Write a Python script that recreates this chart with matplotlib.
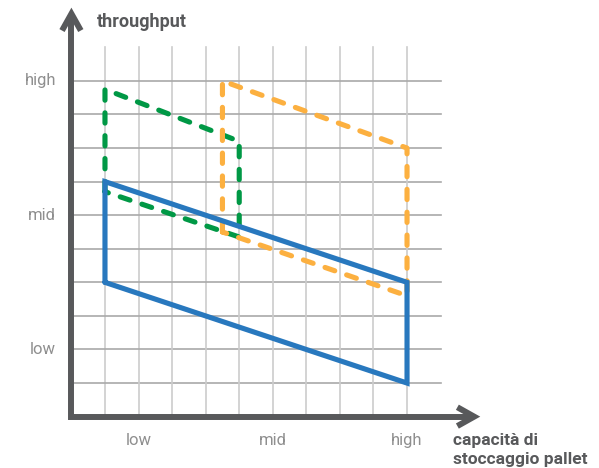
import matplotlib
matplotlib.use("Agg")
from matplotlib import pyplot as plt

# polygons in grid units (axis origin at 0, grid lines at 1..10)
blue_x = [1, 1, 10, 10, 1]
blue_y = [4, 7, 4, 1, 4]
green_x = [1, 1, 5, 5, 1]
green_y = [6.7, 9.75, 8.2, 5.35, 6.7]
orange_x = [4.5, 4.5, 10, 10, 4.5]
orange_y = [5.5, 10, 8, 3.6, 5.5]

tick_labels = ['low', 'mid', 'high']
x_tick_pos = [2, 6, 10]
y_tick_pos = [2, 6, 10]

AXIS_C = '#58595b'
TICK_C = '#8f8f8f'

plt.rcParams['font.family'] = ['Roboto', 'DejaVu Sans']

fig = plt.figure(figsize=(5.99, 4.68), dpi=100)
ax = fig.add_axes([0, 0, 1, 1])
ax.set_xlim(-2.128, 15.72)
ax.set_ylim(-1.53, 12.41)
ax.axis('off')

# grid
for i in range(1, 11):
    ax.plot([i, i], [0, 11], color='#cccccc', lw=1.2, zorder=1)
    ax.plot([0, 11], [i, i], color='#a9a9a9', lw=1.2, zorder=1)

# axes with arrows
ax.plot([0, 0, 12], [12, 0, 0], color=AXIS_C, lw=4.3,
        solid_joinstyle='miter', solid_capstyle='butt', zorder=2)
ax.plot([-0.28, 0, 0.28], [11.5, 12, 11.5], color=AXIS_C, lw=4.3,
        solid_joinstyle='miter', solid_capstyle='butt', zorder=2)
ax.plot([11.5, 12, 11.5], [0.28, 0, -0.28], color=AXIS_C, lw=4.3,
        solid_joinstyle='miter', solid_capstyle='butt', zorder=2)

lw = 3.7
ax.plot(green_x, green_y, color='#009845', lw=lw, dashes=(2.0, 2.45),
        dash_capstyle='round', dash_joinstyle='round', zorder=3)
ax.plot(orange_x, orange_y, color='#fcb040', lw=lw, dashes=(2.0, 2.45),
        dash_capstyle='round', dash_joinstyle='round', zorder=4)
ax.plot(blue_x, blue_y, color='#2878be', lw=lw,
        solid_capstyle='round', solid_joinstyle='miter', zorder=5)

# tick labels
for pos, lab in zip(y_tick_pos, tick_labels):
    ax.text(-0.46, pos, lab, ha='right', va='center', fontsize=12,
            color=TICK_C)
for pos, lab in zip(x_tick_pos, tick_labels):
    ax.text(pos, -0.72, lab, ha='center', va='center', fontsize=12,
            color=TICK_C)

# axis titles
ax.text(0.76, 11.76, 'throughput', ha='left', va='center', fontsize=13,
        fontweight='bold', color=AXIS_C)
ax.text(11.37, -0.70, 'capacità di', ha='left', va='center', fontsize=12.5,
        fontweight='bold', color=AXIS_C)
ax.text(11.37, -1.28, 'stoccaggio pallet', ha='left', va='center',
        fontsize=12.5, fontweight='bold', color=AXIS_C)

fig.savefig('out.png', dpi=100)
